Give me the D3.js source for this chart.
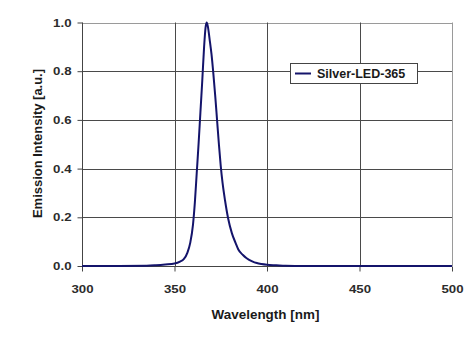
<!DOCTYPE html>
<html>
<head>
<meta charset="utf-8">
<script src="https://cdn.jsdelivr.net/npm/d3@7"></script>
<style>
  html, body { margin: 0; padding: 0; background: #fff; }
  svg { display: block; font-family: "Liberation Sans", Arial, sans-serif; }
</style>
</head>
<body>
<svg id="chart" width="473" height="339"></svg>
<script>
// Emission spectrum of the Silver-LED-365 (normalised intensity)
const wavelengths = [300, 320, 335, 340, 345, 350, 353, 355, 357, 358.5, 360, 361, 362, 363, 364, 365, 366, 366.8, 367.4, 368, 369, 370, 371, 372, 373, 374, 375, 376, 377.3, 379, 381, 383, 384.5, 387, 389, 392, 394.5, 397, 400, 405, 410, 420, 450, 500];
const intensity   = [0, 0, 0.001, 0.003, 0.006, 0.01, 0.018, 0.028, 0.055, 0.095, 0.17, 0.26, 0.38, 0.5, 0.63, 0.76, 0.9, 0.98, 1.0, 0.985, 0.93, 0.87, 0.79, 0.7, 0.6, 0.5, 0.41, 0.34, 0.27, 0.195, 0.135, 0.095, 0.068, 0.045, 0.032, 0.019, 0.012, 0.008, 0.005, 0.003, 0.001, 0, 0, 0];
const xTicks = [300, 350, 400, 450, 500];
const yTicks = [0.0, 0.2, 0.4, 0.6, 0.8, 1.0];
const seriesName = "Silver-LED-365";
const xTitle = "Wavelength [nm]";
const yTitle = "Emission Intensity [a.u.]";

(function draw() {
  const svg = d3.select("#chart");
  const plotLeft = 82, plotRight = 452, plotTop = 22.5, plotBottom = 266;

  // Widen glyph runs slightly (the chart's labels use a broad sans face)
  function widen(sel, factor) {
    sel.each(function () {
      const w = this.getComputedTextLength();
      d3.select(this).attr("textLength", w * factor).attr("lengthAdjust", "spacingAndGlyphs");
    });
  }

  const x = d3.scaleLinear().domain([300, 500]).range([plotLeft, plotRight]);
  const y = d3.scaleLinear().domain([0, 1]).range([plotBottom, plotTop]);

  // Horizontal gridlines
  svg.append("g").selectAll("line")
    .data(yTicks.filter(d => d > 0))
    .join("line")
    .attr("x1", plotLeft).attr("x2", plotRight)
    .attr("y1", d => Math.round(y(d)) + 0.5).attr("y2", d => Math.round(y(d)) + 0.5)
    .attr("stroke", d => d === 1 ? "#9a9a9a" : "#4a4a4a")
    .attr("stroke-width", 1);

  // Vertical gridlines
  svg.append("g").selectAll("line")
    .data(xTicks.filter(d => d > 300))
    .join("line")
    .attr("x1", d => Math.round(x(d)) + 0.5).attr("x2", d => Math.round(x(d)) + 0.5)
    .attr("y1", plotTop).attr("y2", plotBottom)
    .attr("stroke", d => d === 500 ? "#9a9a9a" : "#4a4a4a")
    .attr("stroke-width", 1);

  // Axes
  const yAxis = d3.axisLeft(y).tickValues(yTicks).tickFormat(d3.format(".1f")).tickSize(5).tickPadding(6);
  const xAxis = d3.axisBottom(x).tickValues(xTicks).tickFormat(d3.format("d")).tickSize(5).tickPadding(13);

  const gy = svg.append("g").attr("transform", `translate(${plotLeft + 0.5},0)`).call(yAxis);
  const gx = svg.append("g").attr("transform", `translate(0,${Math.round(plotBottom) + 0.5})`).call(xAxis);

  [gx, gy].forEach(g => {
    g.select(".domain").attr("stroke", "#444").attr("stroke-width", 1);
    g.selectAll(".tick line").attr("stroke", "#444");
    g.selectAll(".tick text")
      .attr("fill", "#2b2b2b")
      .style("font-size", "11.5px")
      .style("font-weight", "bold")
      .style("font-family", "'Liberation Sans', Arial, sans-serif");
    widen(g.selectAll(".tick text"), 1.15);
  });
  gx.select(".domain").attr("d", `M${plotLeft},0H${plotRight}`);
  gy.select(".domain").attr("d", `M0,${plotTop}V${plotBottom}`);

  // Spectrum line
  const line = d3.line()
    .x((d, i) => x(wavelengths[i]))
    .y(d => y(d))
    .curve(d3.curveMonotoneX);

  svg.append("path")
    .datum(intensity)
    .attr("fill", "none")
    .attr("stroke", "#14146b")
    .attr("stroke-width", 2)
    .attr("stroke-linejoin", "round")
    .attr("d", line);

  // Axis titles
  const xt = svg.append("text")
    .attr("x", 265.5).attr("y", 318.5)
    .attr("text-anchor", "middle")
    .attr("fill", "#1a1a1a")
    .style("font-size", "12px").style("font-weight", "bold")
    .text(xTitle);
  widen(xt, 1.12);

  const yt = svg.append("text")
    .attr("transform", `translate(42,143.5) rotate(-90)`)
    .attr("text-anchor", "middle")
    .attr("fill", "#1a1a1a")
    .style("font-size", "12px").style("font-weight", "bold")
    .text(yTitle);
  widen(yt, 1.08);

  // Legend
  const lg = svg.append("g");
  lg.append("rect")
    .attr("x", 290.5).attr("y", 63.5).attr("width", 127).attr("height", 20)
    .attr("fill", "#fff").attr("stroke", "#444").attr("stroke-width", 1);
  lg.append("line")
    .attr("x1", 295).attr("x2", 311).attr("y1", 73.5).attr("y2", 73.5)
    .attr("stroke", "#14146b").attr("stroke-width", 2);
  const lt = lg.append("text")
    .attr("x", 317).attr("y", 78)
    .attr("fill", "#1a1a1a")
    .style("font-size", "12.5px").style("font-weight", "bold")
    .text(seriesName);
  widen(lt, 1.0);
})();
</script>
</body>
</html>
